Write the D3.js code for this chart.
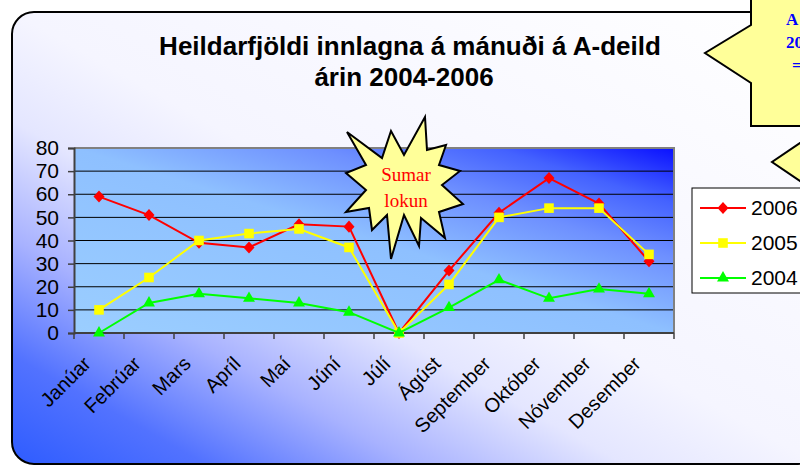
<!DOCTYPE html>
<html>
<head>
<meta charset="utf-8">
<script src="https://cdn.jsdelivr.net/npm/d3@7"></script>
<style>
  body { margin: 0; background: #fff; }
  svg { display: block; font-family: Arial, "Liberation Sans", sans-serif; }
</style>
</head>
<body>
<svg></svg>
<script>
const months = ["Janúar", "Febrúar", "Mars", "Apríl", "Maí", "Júní", "Júlí", "Ágúst", "September", "Október", "Nóvember", "Desember"];
const values2006 = [59, 51, 39, 37, 47, 46, 0, 27, 52, 67, 56, 31];
const values2005 = [10, 24, 40, 43, 45, 37, 0, 21, 50, 54, 54, 34];
const values2004 = [0, 13, 17, 15, 13, 9, 0, 11, 23, 15, 19, 17];
const yTicks = [0, 10, 20, 30, 40, 50, 60, 70, 80];
const titleLines = ["Heildarfjöldi innlagna á mánuði á A-deild", "árin 2004-2006"];
const noteLines = ["Sumar", "lokun"];
const calloutLines = ["A", "20", "="];

// diamond like the spreadsheet marker (a bit wider than d3's own)
const diamond = {
    draw(context, size) {
        let r = Math.sqrt(size) / 2;
        context.moveTo(0, -r * 1.1);
        context.lineTo(r, 0);
        context.lineTo(0, r * 1.1);
        context.lineTo(-r, 0);
        context.closePath();
    }
};

const series = [
    {name: "2006", values: values2006, color: "#ff0000", marker: diamond, size: 121},
    {name: "2005", values: values2005, color: "#ffff00", marker: d3.symbolSquare, size: 92},
    {name: "2004", values: values2004, color: "#00ff00", marker: d3.symbolTriangle, size: 62}
];

let width = 800;
let height = 466;
let svg = d3.select("svg")
            .attr("width", width)
            .attr("height", height);

let defs = svg.append("defs");

let bgGrad = defs.append("linearGradient")
    .attr("id", "bgGrad")
    .attr("x1", 0).attr("y1", 1).attr("x2", 1).attr("y2", 0);
[[0, "#2e5cff"], [0.12, "#5272ff"], [0.25, "#a8b2ff"], [0.38, "#e4e6ff"], [0.5, "#f5f5ff"], [1, "#ffffff"]]
    .forEach(s => bgGrad.append("stop").attr("offset", s[0]).attr("stop-color", s[1]));

let plotGrad = defs.append("linearGradient")
    .attr("id", "plotGrad")
    .attr("x1", 0).attr("y1", 1).attr("x2", 1).attr("y2", 0);
[[0, "#9bceff"], [0.5, "#8ec0ff"], [0.7, "#6e90ff"], [0.85, "#4462ff"], [1, "#0a10ff"]]
    .forEach(s => plotGrad.append("stop").attr("offset", s[0]).attr("stop-color", s[1]));

// chart frame
svg.append("rect")
    .attr("x", 12).attr("y", 12)
    .attr("width", 806).attr("height", 452)
    .attr("rx", 22)
    .attr("fill", "url(#bgGrad)")
    .attr("stroke", "#000")
    .attr("stroke-width", 2);

// title
svg.append("g")
    .selectAll("text")
    .data(titleLines)
    .enter()
    .append("text")
    .attr("x", (d, i) => i === 0 ? 410 : 404)
    .attr("y", (d, i) => 55 + i * 31)
    .attr("text-anchor", "middle")
    .attr("font-size", "26px")
    .attr("font-weight", "bold")
    .attr("fill", "#000")
    .text(d => d);

let x = d3.scaleBand()
    .domain(months)
    .range([74, 674]);

let y = d3.scaleLinear()
    .domain([0, 80])
    .range([333, 148]);

let cx = d => x(d) + x.bandwidth() / 2;

// plot area
svg.append("rect")
    .attr("x", x.range()[0])
    .attr("y", y(80))
    .attr("width", x.range()[1] - x.range()[0])
    .attr("height", y(0) - y(80))
    .attr("fill", "url(#plotGrad)");

svg.append("g")
    .selectAll("line")
    .data(yTicks.filter(t => t > 0 && t < 80))
    .enter()
    .append("line")
    .attr("x1", x.range()[0])
    .attr("x2", x.range()[1])
    .attr("y1", d => y(d))
    .attr("y2", d => y(d))
    .attr("stroke", "#000")
    .attr("stroke-width", 1);

svg.append("path")
    .attr("d", `M${x.range()[0]},${y(80)}H${x.range()[1]}V${y(0)}`)
    .attr("fill", "none")
    .attr("stroke", "#808080")
    .attr("stroke-width", 2);

// y axis
let yAxis = svg.append("g")
    .attr("transform", `translate(${x.range()[0]},0)`)
    .call(d3.axisLeft(y).tickValues(yTicks).tickSize(6).tickPadding(9));
yAxis.select(".domain").attr("stroke", "#404040").attr("stroke-width", 2);
yAxis.selectAll(".tick line").attr("stroke", "#404040").attr("stroke-width", 1.5);
yAxis.selectAll(".tick text")
    .attr("font-size", "21px")
    .attr("font-family", "Arial, 'Liberation Sans', sans-serif")
    .attr("fill", "#000");

// x axis
let xAxis = svg.append("g");
xAxis.append("line")
    .attr("x1", x.range()[0]).attr("x2", x.range()[1])
    .attr("y1", y(0)).attr("y2", y(0))
    .attr("stroke", "#404040")
    .attr("stroke-width", 2);
xAxis.selectAll(".tk")
    .data(months.map(m => x(m)).concat([x.range()[1]]))
    .enter()
    .append("line")
    .attr("class", "tk")
    .attr("x1", d => d).attr("x2", d => d)
    .attr("y1", y(0)).attr("y2", y(0) + 6)
    .attr("stroke", "#404040")
    .attr("stroke-width", 1.5);
xAxis.selectAll("text")
    .data(months)
    .enter()
    .append("text")
    .attr("transform", d => `translate(${cx(d) - 7},${y(0) + 32}) rotate(-45)`)
    .attr("text-anchor", "end")
    .attr("font-size", "20px")
    .attr("fill", "#000")
    .text(d => d);

// series
let line = d3.line()
    .x((d, i) => cx(months[i]))
    .y(d => y(d));

series.forEach(s => {
    let g = svg.append("g").attr("class", "series");
    g.append("path")
        .attr("d", line(s.values))
        .attr("fill", "none")
        .attr("stroke", s.color)
        .attr("stroke-width", 2);
    g.selectAll("path.mk")
        .data(s.values)
        .enter()
        .append("path")
        .attr("class", "mk")
        .attr("transform", (d, i) => `translate(${cx(months[i])},${y(d)})`)
        .attr("d", d3.symbol().type(s.marker).size(s.size))
        .attr("fill", s.color);
});

// "Sumar lokun" starburst next to Júlí
let starCx = cx("Júlí") + 6;
let starCy = y(80) + 40;
let starOffsets = [[20, -71], [22, -38], [41, -43], [34, -23], [55, -17], [37, -3], [58, 16], [34, 24], [40, 50], [16, 30], [14, 58], [-1, 27],
                   [-14, 71], [-18, 27], [-33, 42], [-36, 20], [-59, 24], [-39, 2], [-59, -15], [-39, -23], [-58, -56], [-23, -30], [-14, -57], [-1, -33]];
svg.append("path")
    .attr("d", "M" + starOffsets.map(p => [starCx + p[0], starCy + p[1]].join(",")).join("L") + "Z")
    .attr("fill", "#ffff99")
    .attr("stroke", "#000")
    .attr("stroke-width", 2)
    .attr("stroke-linejoin", "miter");
svg.append("g")
    .selectAll("text")
    .data(noteLines)
    .enter()
    .append("text")
    .attr("x", starCx + 1)
    .attr("y", (d, i) => starCy - 7 + i * 26)
    .attr("text-anchor", "middle")
    .attr("font-family", "'Liberation Serif', 'Times New Roman', serif")
    .attr("font-size", "19px")
    .attr("fill", "#ff0000")
    .text(d => d);

// callouts at the right edge
svg.append("path")
    .attr("d", "M751,-5V25L705,53L751,83V126H820V-5Z")
    .attr("fill", "#ffff99")
    .attr("stroke", "#000")
    .attr("stroke-width", 2);
svg.append("g")
    .selectAll("text")
    .data(calloutLines)
    .enter()
    .append("text")
    .attr("x", (d, i) => i === 2 ? 792 : 786)
    .attr("y", (d, i) => 25 + i * 23)
    .attr("font-family", "'Liberation Serif', 'Times New Roman', serif")
    .attr("font-weight", "bold")
    .attr("font-size", "17px")
    .attr("fill", "#0000ff")
    .text(d => d);
svg.append("path")
    .attr("d", "M806,139L772,162L806,185Z")
    .attr("fill", "#ffff99")
    .attr("stroke", "#000")
    .attr("stroke-width", 2);

// legend
let legend = svg.append("g").attr("id", "legend");
legend.append("rect")
    .attr("x", 692).attr("y", 188)
    .attr("width", 130).attr("height", 105)
    .attr("fill", "#fff")
    .attr("stroke", "#000")
    .attr("stroke-width", 1);
let items = legend.selectAll("g.item")
    .data(series)
    .enter()
    .append("g")
    .attr("class", "item")
    .attr("transform", (d, i) => `translate(0,${208 + i * 35})`);
items.append("line")
    .attr("x1", 700).attr("x2", 746)
    .attr("stroke", d => d.color)
    .attr("stroke-width", 2);
items.append("path")
    .attr("transform", "translate(723,0)")
    .attr("d", d => d3.symbol().type(d.marker).size(d.size)())
    .attr("fill", d => d.color);
items.append("text")
    .attr("x", 751)
    .attr("y", 7)
    .attr("font-size", "21px")
    .attr("fill", "#000")
    .text(d => d.name);
</script>
</body>
</html>
